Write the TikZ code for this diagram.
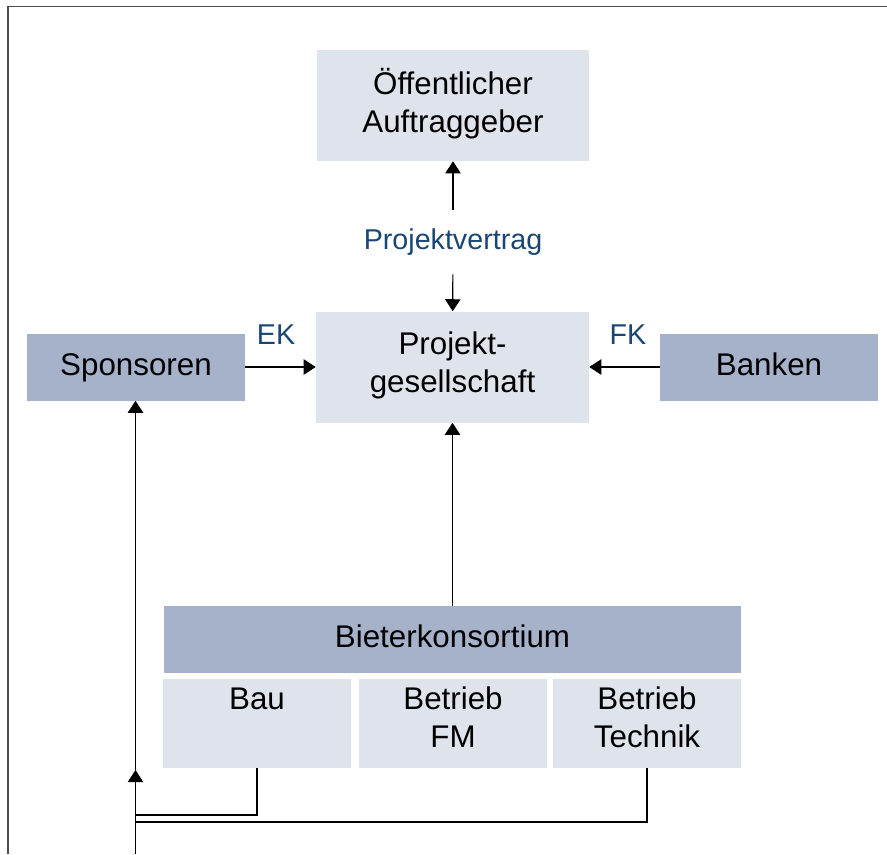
\documentclass[tikz,border=0pt]{standalone}
\usepackage{fontspec}
\setmainfont{Liberation Sans}
\usetikzlibrary{arrows.meta,positioning}
\definecolor{boxlight}{HTML}{DFE3EC}
\definecolor{boxdark}{HTML}{A6B1CA}
\definecolor{lblblue}{HTML}{1A4676}
\begin{document}
\begin{tikzpicture}[x=0.75pt,y=-0.75pt,
					every node/.style={align=center, inner sep=0pt, font=\fontsize{23.5}{28.5}\selectfont},
					light/.style={fill=boxlight},
					dark/.style={fill=boxdark, minimum height=50.25pt, text height=17pt, text depth=5pt},
					part/.style={fill=boxlight, minimum width=141pt, minimum height=66.75pt, text depth=9pt},
					lbl/.style={text=lblblue, font=\fontsize{21.5}{26}\selectfont},
					conn/.style={line width=0.9pt, -{Triangle[length=9pt,width=11.5pt]}}]
				\useasboundingbox (0,0) rectangle (887,854);
				\draw[black!70, line width=1pt] (8,854) -- (8,6.5) -- (887,6.5);
				% boxes
				\node[light, minimum width=204pt, minimum height=83.25pt, text depth=7pt] (oag) at (453,105.5) {Öffentlicher\\Auftraggeber};
				\node[light, minimum width=204.75pt, minimum height=83.25pt, text depth=7pt] (pg) at (452.5,367) {Projekt-\\gesellschaft};
				\node[dark, minimum width=163.5pt] (spons) at (136,367) {Sponsoren};
				\node[dark, minimum width=163.5pt] (banken) at (769,367) {Banken};
				\node[dark, minimum width=432.75pt] (bk) at (452.5,639.5) {Bieterkonsortium};
				\node[part] (bau) at (257,723.5) {Bau\\\phantom{B}};
				\node[part] (fm) at (453,723.5) {Betrieb\\FM};
				\node[part] (tech) at (647,723.5) {Betrieb\\Technik};
				% labels
				\node[lbl, minimum height=48pt] (vertrag) at (453,242) {Projektvertrag};
				\node[lbl] (ek) at (276,335) {EK};
				\node[lbl] (fk) at (628,335) {FK};
				% connectors
				\draw[conn] (vertrag) -- (oag);
				\draw[conn] (vertrag) -- (pg);
				\draw[conn] (spons) -- (pg);
				\draw[conn] (banken) -- (pg);
				\draw[conn] (bk) -- (pg);
				\coordinate (foot) at (135.5,854);
				\coordinate (mid) at (135.5,770);
				\coordinate (jbau) at (135.5,815);
				\coordinate (jtech) at (135.5,822);
				\draw[conn] (foot) -- (mid);
				\draw[conn] (mid) -- (mid |- spons.south);
				\draw[line width=0.9pt] (bau.south) |- (jbau);
				\draw[line width=0.9pt] (tech.south) |- (jtech);
			\end{tikzpicture}
\end{document}
